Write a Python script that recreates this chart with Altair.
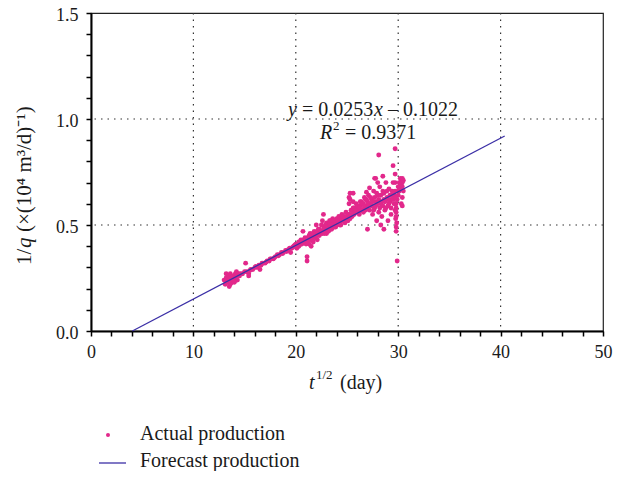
import altair as alt
import pandas as pd

# ---- data ----
actual_x = [
    13.0, 13.1, 13.2, 13.3, 13.4, 13.5, 13.6, 13.7, 13.8, 13.9, 14.0, 14.1, 14.2, 14.3, 14.4, 14.5, 13.2, 13.5, 13.9, 14.6,
    14.8, 15.0, 15.1, 15.2, 15.4, 15.4, 15.6, 15.8, 16.0, 16.2, 16.4, 16.5, 16.6, 16.8, 17.0, 17.2, 17.4, 17.6, 17.8, 18.0,
    18.2, 18.4, 18.6, 18.8, 19.0, 19.2, 19.4, 19.6, 19.8, 20.0, 20.2, 20.4, 19.5, 20.1, 20.5, 20.6,
    20.7, 20.8, 21.0, 21.1, 21.1, 21.2, 21.3, 21.4, 21.5, 21.6, 21.7, 21.8, 21.9, 22.0, 22.1, 22.2, 22.3, 22.4, 22.5, 22.6,
    22.7, 22.8, 22.9, 23.0, 23.1, 23.2, 23.3, 23.4, 23.5, 21.5, 22.0, 22.6, 23.0,
    23.6, 23.7, 23.8, 23.9, 24.0, 24.1, 24.2, 24.3, 24.4, 24.5, 24.6, 24.7, 24.8, 24.9, 25.0, 25.1, 25.2, 25.3, 25.3, 25.4,
    25.5, 25.6, 25.7, 25.8, 25.9, 26.0, 26.1, 26.2, 26.3, 26.4, 26.5, 26.6, 26.7, 26.8, 26.9, 27.0, 27.0, 27.1, 27.2, 27.3,
    25.2, 25.6,
    27.4, 27.5, 27.6, 27.7, 27.8, 27.8, 27.9, 28.0, 28.1, 28.1, 28.2, 28.3, 28.4, 28.5, 28.6, 28.7, 28.8, 28.9, 29.0, 29.1,
    29.2, 29.3, 29.4, 29.5, 29.5, 29.6, 29.7, 29.7, 29.8, 29.8, 29.85, 29.9, 29.9, 30.0, 30.0, 30.1, 30.1, 30.2, 30.2, 30.3,
    30.3, 30.4, 30.4, 28.3, 28.6, 29.0, 29.3, 28.0, 28.5, 29.8, 29.8, 29.8, 29.8,
    20.1, 20.3, 20.3, 20.5, 20.7, 20.9, 20.9, 21.0, 21.2, 21.3, 21.5, 21.6, 21.7, 21.9, 22.1, 22.1, 22.3, 22.4, 22.5, 22.7,
    22.8, 22.9, 23.1, 23.2, 23.3, 23.4, 23.5, 23.6, 23.7, 23.8, 23.9, 24.0, 24.1, 24.2, 24.3, 24.4, 24.5, 24.6, 24.7, 24.8,
    24.9, 25.0, 25.1, 25.2, 25.3, 25.4, 25.5, 25.6, 25.6, 25.7, 25.8, 25.9, 26.0, 26.1, 26.2, 26.3, 26.4, 26.5, 26.6, 26.7,
    26.7, 26.8, 26.9, 26.9, 27.0, 27.1, 27.2, 27.3, 27.4, 27.5, 27.6, 27.7, 27.7, 27.8, 27.9, 28.0, 28.1, 28.2, 28.3, 28.4,
    28.5, 28.6, 28.7, 28.8, 28.9, 29.0, 29.1, 29.2, 29.3, 29.4, 29.5, 29.6, 29.7, 29.7, 29.7, 29.7, 29.75, 29.75, 30.0, 30.2,
    30.4, 30.4, 30.5, 30.5, 30.3, 30.4,
    15.5, 16.1, 16.7, 17.1, 17.5, 17.9, 18.3, 18.7, 19.1, 19.3, 19.7, 19.9, 14.2, 13.6, 14.0,
]
actual_y = [
    0.24, 0.22, 0.25, 0.23, 0.26, 0.24, 0.27, 0.25, 0.23, 0.26, 0.25, 0.27, 0.26, 0.24, 0.27, 0.26, 0.27, 0.21, 0.24, 0.27,
    0.27, 0.28, 0.32, 0.28, 0.27, 0.26, 0.29, 0.29, 0.30, 0.30, 0.31, 0.29, 0.31, 0.32, 0.32, 0.33, 0.33, 0.34, 0.34, 0.35,
    0.36, 0.36, 0.37, 0.37, 0.38, 0.38, 0.39, 0.39, 0.40, 0.41, 0.41, 0.42, 0.37, 0.39, 0.43, 0.41,
    0.47, 0.42, 0.43, 0.35, 0.33, 0.44, 0.41, 0.46, 0.43, 0.45, 0.42, 0.47, 0.44, 0.46, 0.43, 0.48, 0.45, 0.47, 0.50, 0.46,
    0.55, 0.49, 0.47, 0.51, 0.48, 0.50, 0.52, 0.49, 0.51, 0.40, 0.50, 0.52, 0.46,
    0.53, 0.50, 0.52, 0.49, 0.53, 0.51, 0.54, 0.50, 0.52, 0.55, 0.52, 0.54, 0.51, 0.56, 0.53, 0.55, 0.60, 0.65, 0.62, 0.57,
    0.54, 0.58, 0.55, 0.57, 0.60, 0.56, 0.58, 0.55, 0.59, 0.61, 0.57, 0.60, 0.58, 0.62, 0.59, 0.48, 0.61, 0.64, 0.675, 0.60,
    0.63, 0.61,
    0.62, 0.55, 0.66, 0.58, 0.72, 0.61, 0.52, 0.64, 0.83, 0.56, 0.68, 0.60, 0.54, 0.66, 0.62, 0.57, 0.70, 0.63, 0.59, 0.67,
    0.61, 0.55, 0.64, 0.78, 0.70, 0.60, 0.86, 0.66, 0.58, 0.54, 0.51, 0.62, 0.33, 0.68, 0.64, 0.70, 0.66, 0.72, 0.67, 0.69,
    0.71, 0.68, 0.72, 0.50, 0.48, 0.52, 0.62, 0.70, 0.73, 0.47, 0.49, 0.56, 0.60,
    0.41, 0.40, 0.42, 0.41, 0.43, 0.42, 0.44, 0.41, 0.42, 0.45, 0.44, 0.43, 0.46, 0.45, 0.47, 0.45, 0.48, 0.46, 0.47, 0.48,
    0.46, 0.50, 0.49, 0.47, 0.50, 0.52, 0.48, 0.50, 0.52, 0.49, 0.51, 0.50, 0.52, 0.51, 0.53, 0.50, 0.52, 0.54, 0.52, 0.53,
    0.52, 0.54, 0.52, 0.55, 0.53, 0.55, 0.57, 0.55, 0.65, 0.58, 0.56, 0.57, 0.59, 0.56, 0.58, 0.61, 0.57, 0.60, 0.56, 0.63,
    0.59, 0.57, 0.655, 0.62, 0.58, 0.60, 0.57, 0.63, 0.59, 0.61, 0.57, 0.63, 0.72, 0.59, 0.65, 0.60, 0.62, 0.58, 0.64, 0.61,
    0.59, 0.65, 0.61, 0.58, 0.66, 0.62, 0.60, 0.64, 0.58, 0.66, 0.62, 0.64, 0.74, 0.70, 0.63, 0.57, 0.53, 0.60, 0.66, 0.69,
    0.70, 0.63, 0.66, 0.71, 0.60, 0.59,
    0.285, 0.305, 0.32, 0.325, 0.34, 0.345, 0.355, 0.365, 0.375, 0.385, 0.395, 0.405, 0.28, 0.22, 0.23,
]
forecast_x = [4.04, 40.4]
forecast_y = [0.0, 0.92]
grid_x = [10, 20, 30, 40]
grid_y = [0.5, 1.0]
x_ticks = list(range(0, 51, 2))
y_ticks = [round(i * 0.1, 1) for i in range(16)]
legend_labels = ["Actual production", "Forecast production"]

FONT = "Liberation Serif"
PINK = "#e2288b"
BLUE = "#3b2fa6"
INK = "#1a1a1a"

xs = alt.Scale(domain=[0, 50], nice=False, zero=False)
ys = alt.Scale(domain=[0, 1.5], nice=False, zero=False)

pts = pd.DataFrame({"x": actual_x, "y": actual_y})
line = pd.DataFrame({"x": forecast_x, "y": forecast_y})
gx = pd.DataFrame({"x": grid_x})
gy = pd.DataFrame({"y": grid_y})
one = pd.DataFrame({"k": [0]})

x_axis = alt.Axis(
    values=x_ticks, labelExpr="datum.value % 10 == 0 ? datum.label : ''",
    title=None, grid=False, labelPadding=7, labelOverlap=False, labelFlush=False,
    labelBound=False,
)
y_axis = alt.Axis(
    values=y_ticks, format=".1f",
    labelExpr="(round(datum.value*10) % 5 == 0) ? datum.label : ''",
    labelOverlap=False, labelFlush=False, labelBound=False, labelOffset=2,
    title=None, grid=False, labelPadding=8,
)

X = alt.X("x:Q", scale=xs, axis=x_axis)
Y = alt.Y("y:Q", scale=ys, axis=y_axis)

grid_v = alt.Chart(gx).mark_rule(color="#333", strokeDash=[1.5, 5], strokeWidth=1.2).encode(x=X)
grid_h = alt.Chart(gy).mark_rule(color="#333", strokeDash=[1.5, 5], strokeWidth=1.2).encode(y=Y)
points = alt.Chart(pts).mark_circle(color=PINK, size=24, opacity=1).encode(x=X, y=Y)
fline = alt.Chart(line).mark_line(color=BLUE, strokeWidth=1.3).encode(x=X, y=Y)


def txt(s, x, y, size=20, style="normal", align="left", angle=0):
    return alt.Chart(one).mark_text(
        text=s, font=FONT, fontSize=size, fontStyle=style, align=align,
        baseline="middle", color=INK, angle=angle,
    ).encode(x=alt.value(x), y=alt.value(y))


eq = [
    txt("y", 197, 97, style="italic"),
    txt("= 0.0253", 211, 97),
    txt("x", 283, 97, style="italic"),
    txt("– 0.1022", 297, 97),
    txt("R", 229, 120, style="italic"),
    txt("2", 242, 113, size=13),
    txt("= 0.9371", 254, 120),
]
xtitle = [
    txt("t", 218, 370, size=20, style="italic"),
    txt("1/2", 225, 362, size=13),
    txt("(day)", 249, 370, size=20),
]
ytitle = [
    txt("1/", -66, 252, size=21, angle=270),
    txt("q", -66, 235, size=21, style="italic", angle=270),
    txt("(×(10⁴ m³/d)⁻¹)", -66, 219, size=21, angle=270),
]

leg_pt = alt.Chart(one).mark_circle(color=PINK, size=16, opacity=1).encode(
    x=alt.value(17), y=alt.value(422)
)
leg_ln = alt.Chart(one).mark_rule(color=BLUE, strokeWidth=1.3).encode(
    x=alt.value(8), x2=alt.value(35), y=alt.value(450)
)
leg_t = [
    txt(legend_labels[0], 49, 421, size=20),
    txt(legend_labels[1], 49, 448, size=20),
]

chart = alt.layer(
    grid_v, grid_h, points, fline, *eq, *xtitle, *ytitle, leg_pt, leg_ln, *leg_t
).properties(
    width=512, height=318,
    autosize=alt.AutoSizeParams(type="none"),
    padding={"left": 83, "top": 5, "right": 14, "bottom": 140},
).configure_view(
    stroke="#222", strokeWidth=1.2
).configure_axis(
    domainColor="black", domainWidth=2, tickColor="black", tickWidth=1.5, tickSize=5,
    labelFont=FONT, labelFontSize=18, labelColor=INK, labelOverlap=False,
    titleFont=FONT, titleFontSize=20, titleFontWeight="normal", titleColor=INK,
)

chart.save("out.html", embed_options={"renderer": "svg", "actions": False})
